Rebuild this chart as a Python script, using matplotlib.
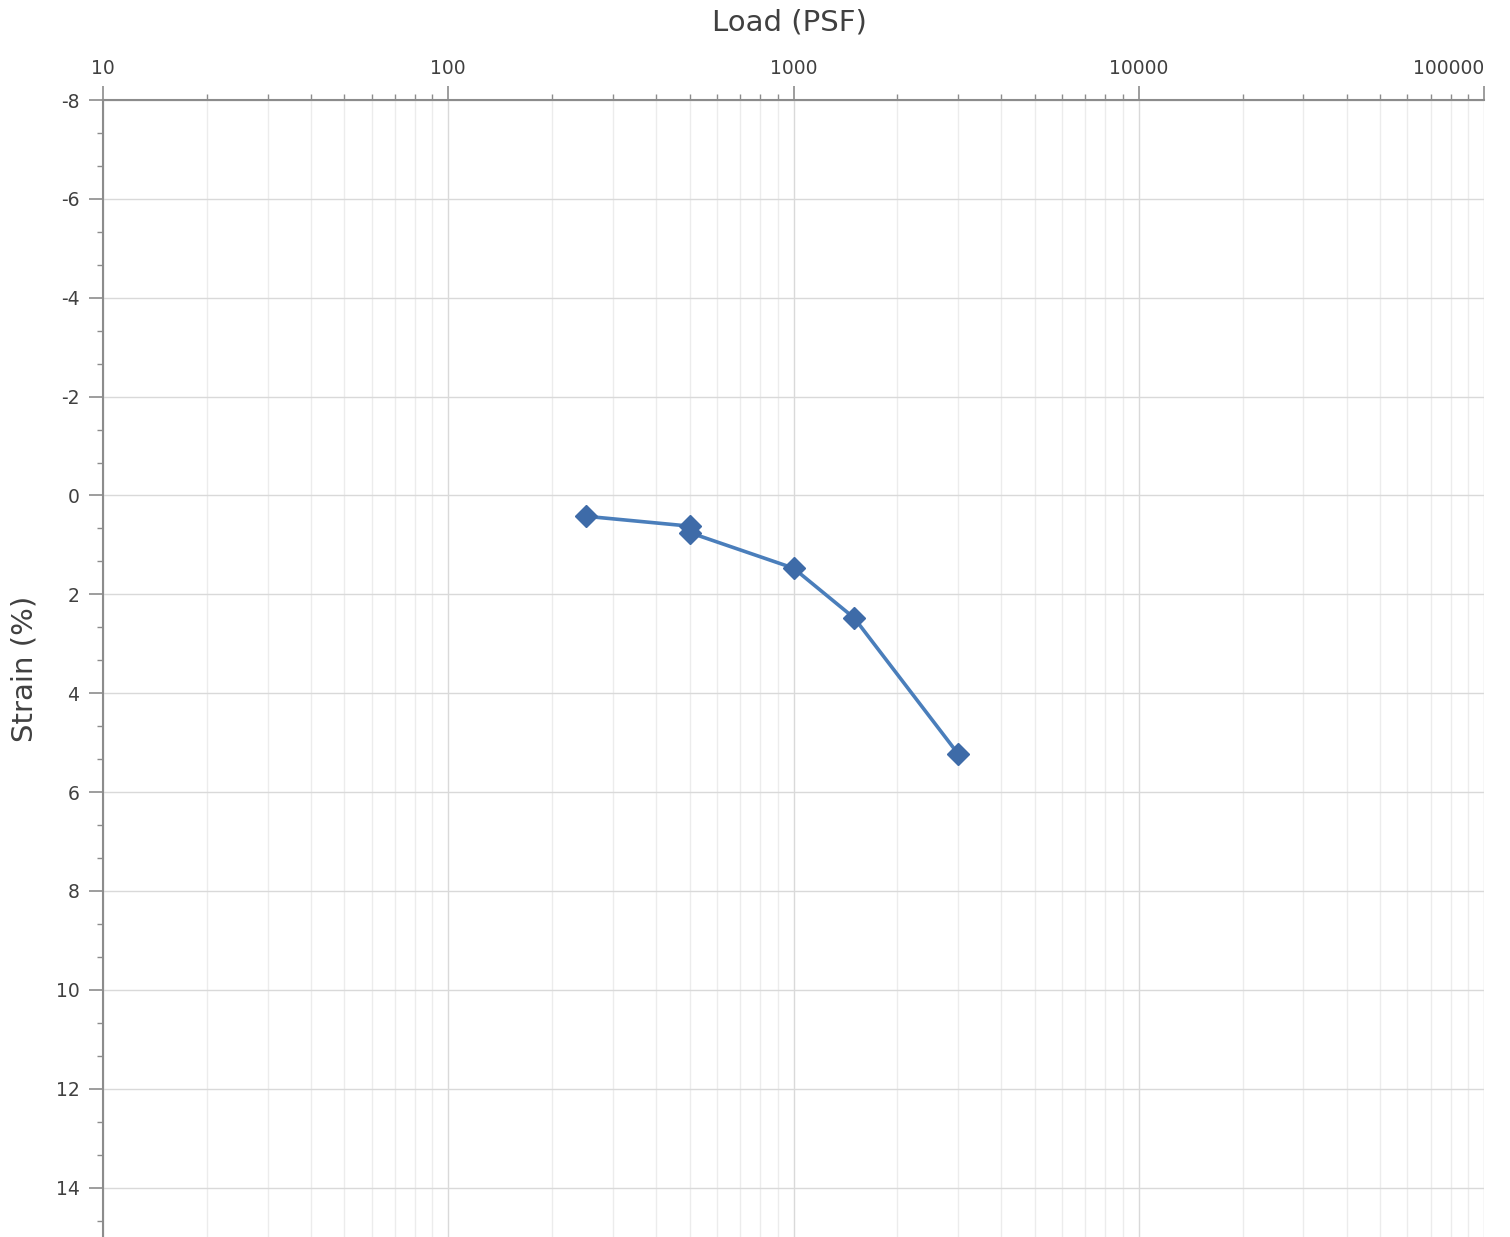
import numpy as np
import matplotlib.pyplot as plt
from matplotlib.ticker import MultipleLocator, LogLocator, NullFormatter, FixedLocator

# Consolidation data: load vs strain
load_psf = [250, 500, 500, 1000, 1500, 3000]
strain_pct = [0.42, 0.62, 0.75, 1.47, 2.48, 5.23]

x_ticks = [10, 100, 1000, 10000, 100000]
x_labels = ['10', '100', '1000', '10000', '100000']
y_ticks = [-8, -6, -4, -2, 0, 2, 4, 6, 8, 10, 12, 14]

txt = '#404040'
axis_col = '#8c8c8c'

plt.rcParams['axes.unicode_minus'] = False

fig = plt.figure(figsize=(15.1, 12.37), dpi=100)
ax = fig.add_axes([103/1510, 0.0, (1484-103)/1510, 1 - 100/1237])

ax.plot(load_psf, strain_pct, color='#4a7ebb', lw=2.6,
        marker='D', markersize=11, markerfacecolor='#3e6ba8',
        markeredgecolor='#3e6ba8', zorder=3)

ax.set_xscale('log')
ax.set_xlim(10, 100000)
ax.set_ylim(15, -8)

ax.xaxis.set_major_locator(FixedLocator(x_ticks))
ax.set_xticklabels(x_labels)
ax.xaxis.set_minor_locator(LogLocator(base=10, subs=np.arange(2, 10)))
ax.xaxis.set_minor_formatter(NullFormatter())
ax.yaxis.set_major_locator(FixedLocator(y_ticks))
ax.yaxis.set_minor_locator(MultipleLocator(2/3))

ax.xaxis.tick_top()
ax.xaxis.set_label_position('top')
ax.tick_params(axis='x', which='major', direction='out', length=10, width=1.2,
               color=axis_col, labelsize=13.5, labelcolor=txt, pad=5.5)
ax.tick_params(axis='x', which='minor', direction='out', length=4, width=1,
               color=axis_col)
ax.tick_params(axis='y', which='major', direction='out', length=10, width=1.2,
               color=axis_col, labelsize=13.5, labelcolor=txt, pad=7)
ax.tick_params(axis='y', which='minor', direction='out', length=4, width=1,
               color=axis_col)

# last label is pushed inside the figure like in the original
ax.get_xticklabels()[-1].set_ha('right')

ax.grid(True, which='major', color='#d9d9d9', lw=1)
ax.grid(True, which='minor', axis='x', color='#ececec', lw=1)
ax.set_axisbelow(True)

for side in ['right', 'bottom']:
    ax.spines[side].set_visible(False)
for side in ['left', 'top']:
    ax.spines[side].set_color(axis_col)
    ax.spines[side].set_linewidth(1.5)

ax.set_xlabel('Load (PSF)', fontsize=21, color=txt, va='center')
ax.set_ylabel('Strain (%)', fontsize=21, color=txt, va='center')
ax.xaxis.set_label_coords(0.497, 1.0686)
ax.yaxis.set_label_coords(-0.0565, 0.5)

fig.savefig('out.png', dpi=100)
